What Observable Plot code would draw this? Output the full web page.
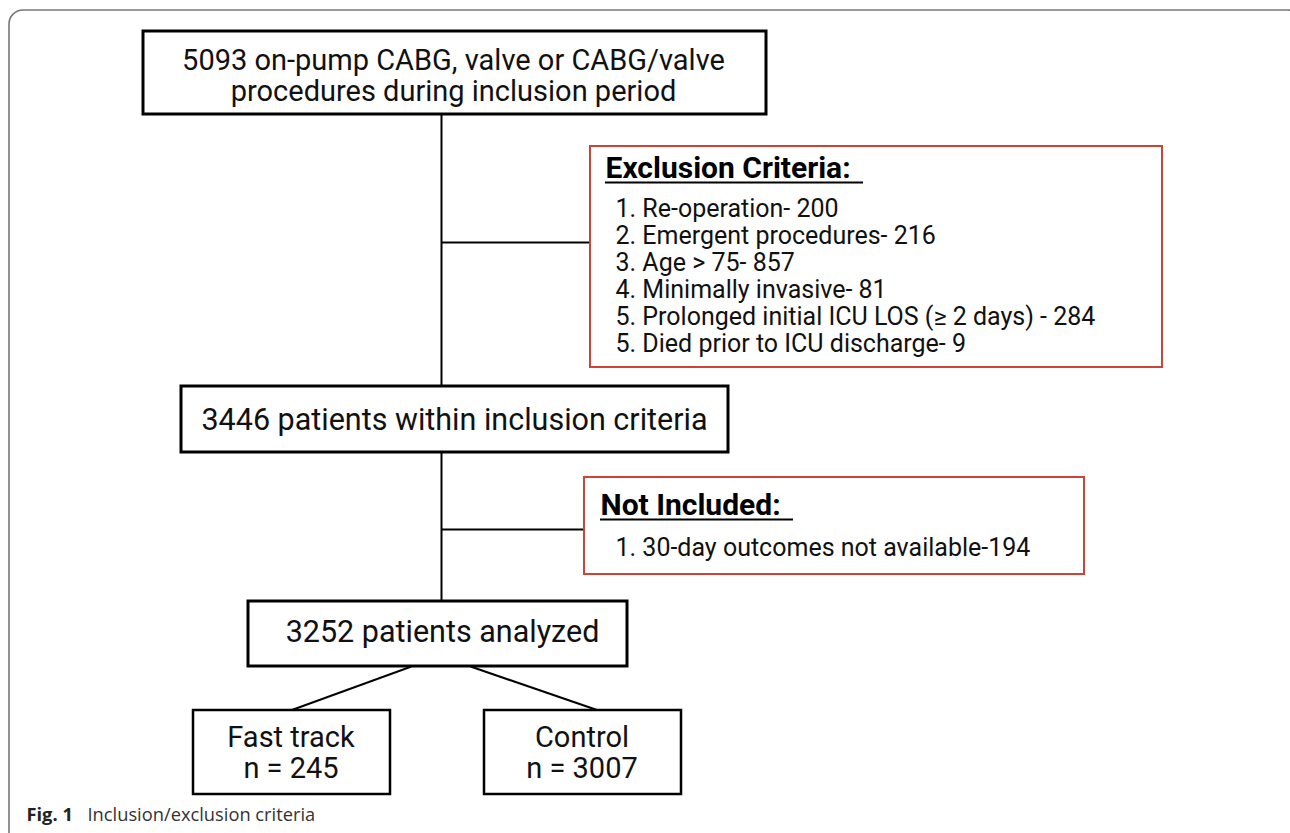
<!DOCTYPE html>
<html>
<head>
<meta charset="utf-8">
<script src="https://cdn.jsdelivr.net/npm/d3@7"></script>
<script src="https://cdn.jsdelivr.net/npm/@observablehq/plot@0.6"></script>
<style>
  html, body { margin: 0; padding: 0; background: #fff; }
  #chart svg { display: block; }
</style>
</head>
<body>
<div id="chart"></div>
<script>
// ---- Data (texts and counts) ----
const topLines = ["5093 on-pump CABG, valve or CABG/valve", "procedures during inclusion period"];
const exclusionTitle = "Exclusion Criteria:";
const exclusionItems = [
  "1. Re-operation- 200",
  "2. Emergent procedures- 216",
  "3. Age > 75- 857",
  "4. Minimally invasive- 81",
  "5. Prolonged initial ICU LOS (\u2265 2 days) - 284",
  "5. Died prior to ICU discharge- 9"
];
const inclusionLabel = "3446 patients within inclusion criteria";
const notIncludedTitle = "Not Included:";
const notIncludedItems = ["1. 30-day outcomes not available-194"];
const analyzedLabel = "3252 patients analyzed";
const groupNames = ["Fast track", "Control"];
const groupCounts = [245, 3007];
const captionLabel = "Fig. 1";
const captionText = "Inclusion/exclusion criteria";

// ---- Layout (pixel space) ----
const W = 1290, H = 833;
const boxes = [
  {id: "top", x1: 143, y1: 31, x2: 766, y2: 114, stroke: "#000", sw: 3, rx: 0},
  {id: "excl", x1: 590, y1: 146, x2: 1162, y2: 367, stroke: "#cf4336", sw: 2, rx: 0},
  {id: "incl", x1: 181, y1: 386, x2: 728, y2: 452, stroke: "#000", sw: 3, rx: 0},
  {id: "notinc", x1: 584, y1: 477, x2: 1084, y2: 574, stroke: "#cf4336", sw: 2, rx: 0},
  {id: "anal", x1: 248, y1: 601, x2: 627, y2: 666, stroke: "#000", sw: 3, rx: 0},
  {id: "g0", x1: 193, y1: 710, x2: 390, y2: 794, stroke: "#000", sw: 2.5, rx: 6},
  {id: "g1", x1: 484, y1: 710, x2: 681, y2: 794, stroke: "#000", sw: 2.5, rx: 6}
];
const B = Object.fromEntries(boxes.map(b => [b.id, b]));
const spineX = 441;
const links = [
  {x1: spineX, y1: B.top.y2, x2: spineX, y2: B.incl.y1},
  {x1: spineX, y1: 242, x2: B.excl.x1, y2: 242},
  {x1: spineX, y1: B.incl.y2, x2: spineX, y2: B.anal.y1},
  {x1: spineX, y1: 529, x2: B.notinc.x1, y2: 529},
  {x1: 411, y1: B.anal.y2, x2: 290, y2: B.g0.y1},
  {x1: 470, y1: B.anal.y2, x2: 598, y2: B.g1.y1}
];

const cx = b => (b.x1 + b.x2) / 2;
// single-line labels
const singles = [
  {text: inclusionLabel, x: 454, y: 420},
  {text: analyzedLabel, x: 442, y: 632}
];
// two-line labels
const multis = [
  {text: topLines.join("\n"), x: 453, y: 75.5},
  ...groupNames.map((g, i) => ({text: g + "\nn = " + groupCounts[i], x: cx(B["g" + i]) - 1, y: 752.5}))
];
const titles = [
  {text: exclusionTitle, x: 605, y: 168, ux2: 863, uy: 182},
  {text: notIncludedTitle, x: 600, y: 505, ux2: 793, uy: 519}
];
const itemFont = 25, itemStep = 27;
const items = [
  {text: exclusionItems.join("\n"), x: 615, y: 208 + itemStep * (exclusionItems.length - 1) / 2},
  {text: notIncludedItems.join("\n"), x: 615, y: 547 + itemStep * (notIncludedItems.length - 1) / 2}
];
const multiFont = 29, multiStep = 31;

const font = "Roboto, 'Noto Sans', sans-serif";

const chart = Plot.plot({
  width: W,
  height: H,
  margin: 0,
  x: {domain: [0, W], range: [0, W], axis: null},
  y: {domain: [0, H], range: [0, H], axis: null},
  style: {background: "#fff", fontFamily: font},
  marks: [
    // outer figure frame
    Plot.rect([{x1: 9, y1: 10, x2: W + 12, y2: H + 20}], {
      x1: "x1", y1: "y1", x2: "x2", y2: "y2", fill: "none", stroke: "#777", strokeWidth: 1.6, rx: 14
    }),
    Plot.link(links, {x1: "x1", y1: "y1", x2: "x2", y2: "y2", stroke: "#000", strokeWidth: 2}),
    Plot.rect(boxes, {
      x1: "x1", y1: "y1", x2: "x2", y2: "y2", fill: "#fff",
      stroke: d => d.stroke, strokeWidth: d => d.sw, rx: d => d.rx
    }),
    Plot.text(singles, {x: "x", y: "y", text: "text", fontSize: 30.5, fill: "#111", textAnchor: "middle"}),
    Plot.text(multis, {x: "x", y: "y", text: "text", fontSize: multiFont, lineHeight: multiStep / multiFont,
      fill: "#111", textAnchor: "middle", ariaLabel: "multi-labels"}),
    Plot.text(titles, {x: "x", y: "y", text: "text", fontSize: 30, fontWeight: "bold", fill: "#000",
      textAnchor: "start"}),
    Plot.ruleY(titles, {x1: "x", x2: "ux2", y: "uy", stroke: "#000", strokeWidth: 2}),
    Plot.text(items, {x: "x", y: "y", text: "text", fontSize: itemFont, lineHeight: itemStep / itemFont,
      fill: "#111", textAnchor: "start", ariaLabel: "item-lists"}),
    Plot.text([{t: captionLabel}], {x: () => 26, y: () => 815, text: "t", fontSize: 18.3, fontWeight: "bold",
      fontFamily: "'Open Sans', sans-serif", fill: "#222", textAnchor: "start"}),
    Plot.text([{t: captionText}], {x: () => 87, y: () => 815, text: "t", fontSize: 18.3,
      fontFamily: "'Open Sans', sans-serif", fill: "#333", textAnchor: "start"})
  ]
});
// widen letter spacing (the reference glyphs are slightly wider than Roboto)
d3.select(chart).selectAll("g[aria-label='multi-labels']").attr("letter-spacing", 0.7);
d3.select(chart).selectAll("g[aria-label='item-lists']").attr("letter-spacing", 1.1);
document.getElementById("chart").appendChild(chart);
</script>
</body>
</html>
